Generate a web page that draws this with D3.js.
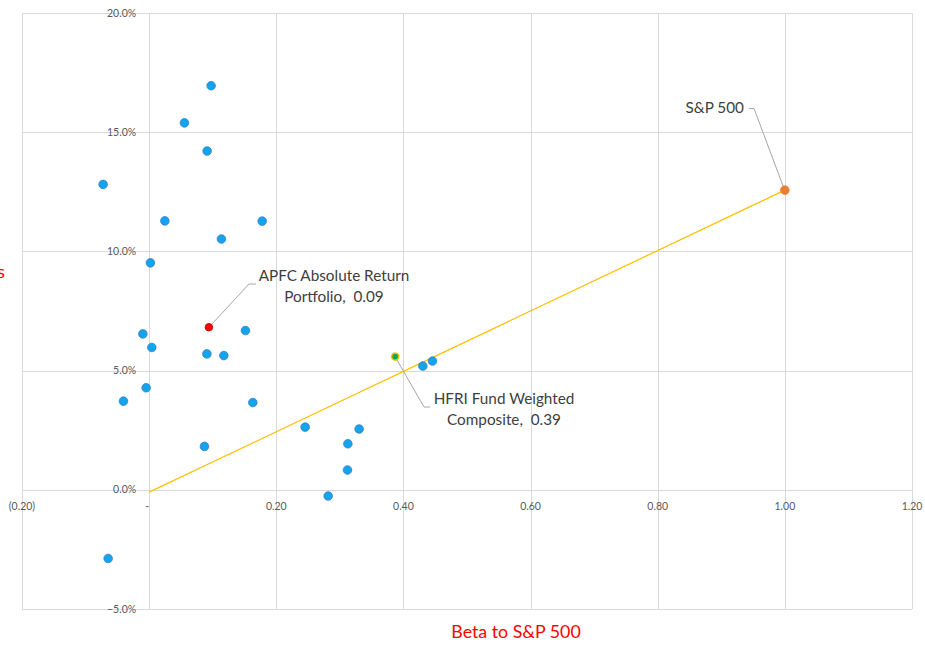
<!DOCTYPE html>
<html>
<head>
<meta charset="utf-8">
<script src="https://cdn.jsdelivr.net/npm/d3@7"></script>
<style>
  html, body { margin: 0; padding: 0; background: #fff; }
  svg { display: block; }
</style>
</head>
<body>
<svg id="chart" width="925" height="645"></svg>
<script>
// Hedge fund peers: beta to S&P 500 vs. annualised return (%)
const peerBeta = [0.0975, 0.0555, 0.0912, -0.0724, 0.0247, 0.1778, 0.1137, 0.002,
  -0.0099, 0.0042, 0.0908, 0.1175, 0.1515, -0.0047, -0.0404, 0.1631, 0.087,
  0.2454, 0.3126, 0.3303, 0.312, 0.2816, -0.0645, 0.4305, 0.4457];
const peerReturn = [16.95, 15.39, 14.21, 12.81, 11.28, 11.27, 10.52, 9.52,
  6.54, 5.97, 5.70, 5.63, 6.68, 4.28, 3.72, 3.66, 1.82,
  2.63, 1.93, 2.55, 0.83, -0.26, -2.88, 5.19, 5.40];

// Highlighted series
const apfc = { name: ["APFC Absolute Return", "Portfolio"], beta: 0.094, ret: 6.82 };
const hfri = { name: ["HFRI Fund Weighted", "Composite"], beta: 0.387, ret: 5.59 };
const spx = { name: ["S&P 500"], beta: 1.0, ret: 12.57 };

// Market line from zero beta to the index
const marketLineBeta = [0, 1.0];
const marketLineReturn = [-0.1, 12.57];

// Axis ticks
const xTicks = [-0.2, 0, 0.2, 0.4, 0.6, 0.8, 1.0, 1.2];
const xTickLabels = ["(0.20)", "-", "0.20", "0.40", "0.60", "0.80", "1.00", "1.20"];
const yTicks = [-5, 0, 5, 10, 15, 20];

const svg = d3.select("#chart");
const x = d3.scaleLinear().domain([-0.2, 1.2]).range([22, 912]);
const y = d3.scaleLinear().domain([-5, 20]).range([609, 13]);

const font = "Lato, 'Liberation Sans', sans-serif";
const gridColor = "#d9d9d9";

// Gridlines
svg.append("g").selectAll("line").data(yTicks).join("line")
  .attr("x1", x.range()[0]).attr("x2", x.range()[1])
  .attr("y1", d => Math.round(y(d)) + 0.5).attr("y2", d => Math.round(y(d)) + 0.5)
  .attr("stroke", gridColor).attr("stroke-width", 1);
svg.append("g").selectAll("line").data(xTicks).join("line")
  .attr("y1", y.range()[0]).attr("y2", y.range()[1])
  .attr("x1", d => Math.round(x(d)) + 0.5).attr("x2", d => Math.round(x(d)) + 0.5)
  .attr("stroke", gridColor).attr("stroke-width", 1);

// Y tick labels sit beside the zero-beta axis
const fmtPct = d3.format(".1f");
svg.append("g").selectAll("text").data(yTicks).join("text")
  .attr("x", x(0) - 13).attr("y", d => y(d))
  .attr("dy", "0.35em").attr("text-anchor", "end")
  .attr("font-family", font).attr("font-size", 10.5).attr("fill", "#595959")
  .text(d => fmtPct(d) + "%");

// X tick labels sit below the zero-return axis
svg.append("g").selectAll("text").data(xTicks).join("text")
  .attr("x", (d, i) => x(d) - (i === 1 ? 2 : 0)).attr("y", y(0) + 17)
  .attr("dy", "0.35em").attr("text-anchor", "middle")
  .attr("font-family", font).attr("font-size", 10.5).attr("fill", "#595959")
  .text((d, i) => xTickLabels[i]);

// Market line
const line = d3.line().x(d => x(d[0])).y(d => y(d[1]));
svg.append("path")
  .datum(marketLineBeta.map((b, i) => [b, marketLineReturn[i]]))
  .attr("d", line).attr("fill", "none")
  .attr("stroke", "#ffc000").attr("stroke-width", 1.25);

// Peer funds
svg.append("g").selectAll("circle").data(peerBeta.map((b, i) => [b, peerReturn[i]])).join("circle")
  .attr("cx", d => x(d[0])).attr("cy", d => y(d[1])).attr("r", 4.3)
  .attr("fill", "#12a4ec").attr("stroke", "#3a7cc8").attr("stroke-width", 0.8);

// Leader lines
const leader = d3.line();
const labelStroke = "#a6a6a6";
svg.append("path")
  .attr("d", leader([[256, 284], [249, 284], [x(apfc.beta) + 2, y(apfc.ret) - 2]]))
  .attr("fill", "none").attr("stroke", labelStroke).attr("stroke-width", 1);
svg.append("path")
  .attr("d", leader([[x(hfri.beta) + 1, y(hfri.ret) + 2], [424, 407], [430, 407]]))
  .attr("fill", "none").attr("stroke", labelStroke).attr("stroke-width", 1);
svg.append("path")
  .attr("d", leader([[749, 108.5], [754, 108.5], [x(spx.beta) - 1, y(spx.ret) - 2]]))
  .attr("fill", "none").attr("stroke", labelStroke).attr("stroke-width", 1);

// Highlighted points
svg.append("circle").attr("cx", x(apfc.beta)).attr("cy", y(apfc.ret)).attr("r", 3.8)
  .attr("fill", "#ff0000").attr("stroke", "#c00000").attr("stroke-width", 0.8);
svg.append("circle").attr("cx", x(hfri.beta)).attr("cy", y(hfri.ret)).attr("r", 3.6)
  .attr("fill", "#00b050").attr("stroke", "#ffc000").attr("stroke-width", 1.5);
svg.append("circle").attr("cx", x(spx.beta)).attr("cy", y(spx.ret)).attr("r", 4.3)
  .attr("fill", "#ed7d31").attr("stroke", "#ed7d31").attr("stroke-width", 0.8);

// Data labels
const fmtBeta = d3.format(".2f");
const labelStyle = sel => sel.attr("font-family", font).attr("font-size", 15.3).attr("fill", "#404040");

const apfcText = svg.append("text").call(labelStyle).attr("text-anchor", "middle");
apfcText.append("tspan").attr("x", 334).attr("y", 281).text(apfc.name[0]);
apfcText.append("tspan").attr("x", 334).attr("y", 302).text(apfc.name[1] + ",\u00a0 " + fmtBeta(apfc.beta));

const hfriText = svg.append("text").call(labelStyle).attr("text-anchor", "middle");
hfriText.append("tspan").attr("x", 504).attr("y", 404).text(hfri.name[0]);
hfriText.append("tspan").attr("x", 504).attr("y", 425).text(hfri.name[1] + ",\u00a0 " + fmtBeta(hfri.beta));

svg.append("text").call(labelStyle).attr("text-anchor", "end")
  .attr("x", 744).attr("y", 113).text(spx.name[0]);

// Axis titles
svg.append("text").attr("x", 516).attr("y", 638).attr("text-anchor", "middle")
  .attr("font-family", font).attr("font-size", 17.8).attr("fill", "#ff0000")
  .text("Beta to S&P 500");
svg.append("text").attr("x", 5).attr("y", 278).attr("text-anchor", "end")
  .attr("font-family", font).attr("font-size", 17.8).attr("fill", "#ff0000")
  .text("Annualized Returns");
</script>
</body>
</html>
